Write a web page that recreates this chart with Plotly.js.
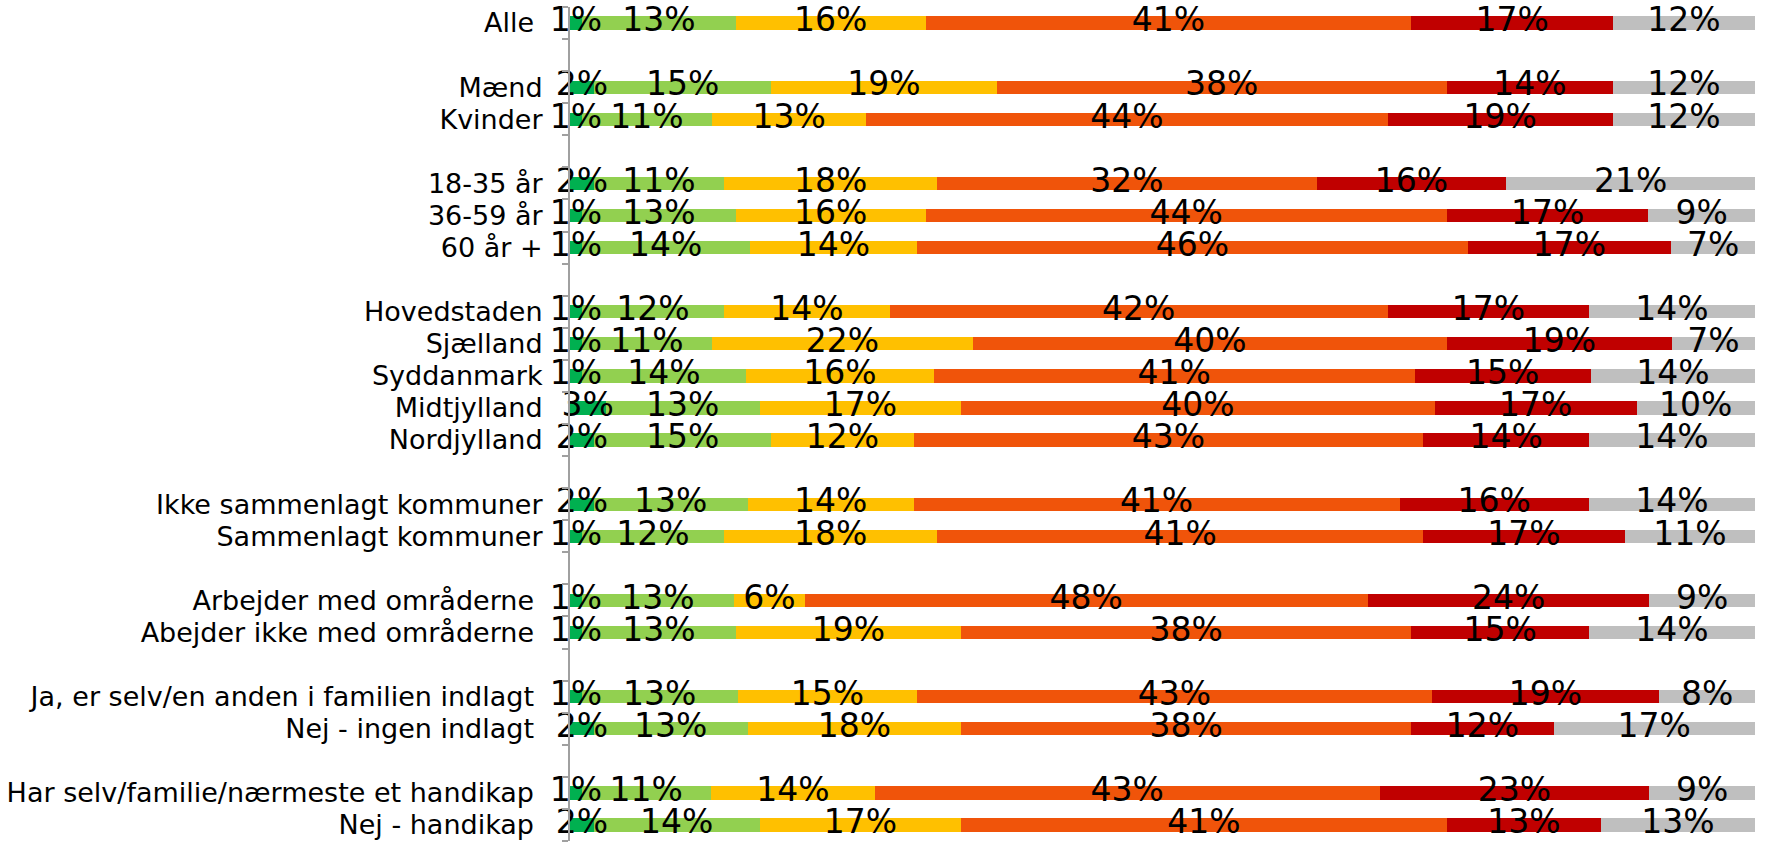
<!DOCTYPE html>
<html>
<head>
<meta charset="utf-8">
<script src="https://cdn.plot.ly/plotly-3.0.1.min.js"></script>
<style>html,body{margin:0;padding:0;background:#fff;}#chart{width:1765px;height:842px;}</style>
</head>
<body>
<div id="chart"></div>
<script>
// Rows from top to bottom; "" marks an empty spacer row between groups
const categories = [
  "Alle\u00a0", "",
  "Mænd", "Kvinder", "",
  "18-35 år", "36-59 år", "60 år +", "",
  "Hovedstaden", "Sjælland", "Syddanmark", "Midtjylland", "Nordjylland", "",
  "Ikke sammenlagt kommuner", "Sammenlagt kommuner", "",
  "Arbejder med områderne\u00a0", "Abejder ikke med områderne\u00a0", "",
  "Ja, er selv/en anden i familien indlagt\u00a0", "Nej - ingen indlagt\u00a0", "",
  "Har selv/familie/nærmeste et handikap\u00a0", "Nej - handikap\u00a0"
];
const s1 = [1,null, 2,1,null, 2,1,1,null, 1,1,1,3,2,null, 2,1,null, 1,1,null, 1,2,null, 1,2];
const s2 = [13,null, 15,11,null, 11,13,14,null, 12,11,14,13,15,null, 13,12,null, 13,13,null, 13,13,null, 11,14];
const s3 = [16,null, 19,13,null, 18,16,14,null, 14,22,16,17,12,null, 14,18,null, 6,19,null, 15,18,null, 14,17];
const s4 = [41,null, 38,44,null, 32,44,46,null, 42,40,41,40,43,null, 41,41,null, 48,38,null, 43,38,null, 43,41];
const s5 = [17,null, 14,19,null, 16,17,17,null, 17,19,15,17,14,null, 16,17,null, 24,15,null, 19,12,null, 23,13];
const s6 = [12,null, 12,12,null, 21,9,7,null, 14,7,14,10,14,null, 14,11,null, 9,14,null, 8,17,null, 9,13];
const seriesColors = ["#00B050", "#92D050", "#FFC000", "#F0540A", "#C00000", "#BFBFBF"];

const series = [s1, s2, s3, s4, s5, s6];
// unique spacer names for blank rows
let sp = 0;
const rows = categories.map(c => c === "" ? "\u200b".repeat(++sp) : c);
const tickText = categories.map(c => c === "" ? "" : c);
const totals = rows.map((_, i) => series.reduce((a, s) => a + (s[i] || 0), 0));
const norm = series.map(s => s.map((v, i) => v == null ? null : v / totals[i] * 100));

const traces = [];
norm.forEach((s, k) => {
  traces.push({
    type: "bar", orientation: "h", y: rows, x: s,
    marker: {color: seriesColors[k], line: {width: 0}},
    hoverinfo: "skip", showlegend: false
  });
});
const labelFamily = "DejaVu Sans, Verdana, sans-serif";
norm.forEach((s, k) => {
  const xs = [], ys = [], ts = [];
  s.forEach((v, i) => {
    if (v == null) return;
    let start = 0;
    for (let j = 0; j < k; j++) start += norm[j][i] || 0;
    xs.push(start + v / 2); ys.push(rows[i]); ts.push(series[k][i] + "%");
  });
  traces.push({
    type: "scatter", mode: "text", x: xs, y: ys, text: ts,
    textposition: "middle center",
    textfont: {family: labelFamily, size: 33, color: "#000"},
    hoverinfo: "skip", showlegend: false, cliponaxis: false
  });
});

const layout = {
  width: 1765, height: 842,
  margin: {l: 570, r: 10, t: 7, b: 1},
  paper_bgcolor: "#fff", plot_bgcolor: "#fff",
  barmode: "stack", bargap: 0.585,
  showlegend: false,
  xaxis: {range: [0, 100], showgrid: false, zeroline: false, showline: false, showticklabels: false, ticks: "", fixedrange: true},
  yaxis: {
    type: "category", categoryorder: "array", categoryarray: rows,
    range: [rows.length - 0.5, -0.5],
    tickmode: "array", tickvals: rows, ticktext: tickText,
    showgrid: false, zeroline: false,
    showline: true, linecolor: "#A0A0A0", linewidth: 2,
    ticks: "outside", ticklen: 6, tickwidth: 2, tickcolor: "#A0A0A0", tickson: "boundaries",
    ticklabelstandoff: 20,
    tickfont: {family: labelFamily, size: 27, color: "#000"},
    fixedrange: true
  }
};
Plotly.newPlot("chart", traces, layout, {displayModeBar: false, staticPlot: true});
</script>
</body>
</html>
